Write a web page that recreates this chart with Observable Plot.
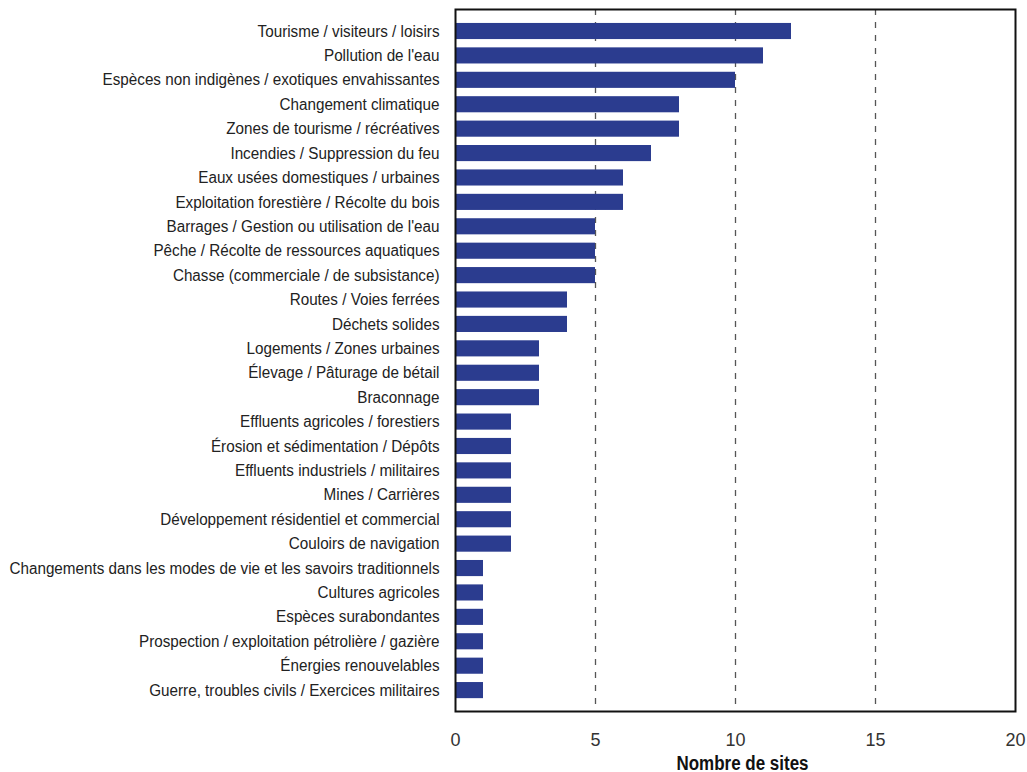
<!DOCTYPE html>
<html>
<head>
<meta charset="utf-8">
<script src="https://cdn.jsdelivr.net/npm/d3@7"></script>
<script src="https://cdn.jsdelivr.net/npm/@observablehq/plot@0.6"></script>
<style>
  html, body { margin: 0; padding: 0; background: #fff; }
  #chart svg { display: block; }
</style>
</head>
<body>
<div id="chart"></div>
<script>
const categories = [
  "Tourisme / visiteurs / loisirs",
  "Pollution de l'eau",
  "Espèces non indigènes / exotiques envahissantes",
  "Changement climatique",
  "Zones de tourisme / récréatives",
  "Incendies / Suppression du feu",
  "Eaux usées domestiques / urbaines",
  "Exploitation forestière / Récolte du bois",
  "Barrages / Gestion ou utilisation de l'eau",
  "Pêche / Récolte de ressources aquatiques",
  "Chasse (commerciale / de subsistance)",
  "Routes / Voies ferrées",
  "Déchets solides",
  "Logements / Zones urbaines",
  "Élevage / Pâturage de bétail",
  "Braconnage",
  "Effluents agricoles / forestiers",
  "Érosion et sédimentation / Dépôts",
  "Effluents industriels / militaires",
  "Mines / Carrières",
  "Développement résidentiel et commercial",
  "Couloirs de navigation",
  "Changements dans les modes de vie et les savoirs traditionnels",
  "Cultures agricoles",
  "Espèces surabondantes",
  "Prospection / exploitation pétrolière / gazière",
  "Énergies renouvelables",
  "Guerre, troubles civils / Exercices militaires"
];
const values = [12, 11, 10, 8, 8, 7, 6, 6, 5, 5, 5, 4, 4, 3, 3, 3, 2, 2, 2, 2, 2, 2, 1, 1, 1, 1, 1, 1];
const xTicks = [0, 5, 10, 15, 20];
const gridTicks = [5, 10, 15];
const xLabel = "Nombre de sites";

const data = categories.map((c, i) => ({category: c, value: values[i]}));

const chart = Plot.plot({
  width: 1027,
  height: 772,
  marginLeft: 455,
  marginRight: 12,
  marginTop: 9,
  marginBottom: 61,
  style: {fontFamily: "'Liberation Sans', Arial, sans-serif", background: "#fff"},
  x: {domain: [0, 20], ticks: xTicks},
  y: {domain: categories, range: [18.8, 702.3], padding: 0.34, paddingOuter: 0.17, round: false, axis: null},
  marks: [
    Plot.ruleX(gridTicks, {stroke: "#555", strokeWidth: 1.3, strokeDasharray: "6,7"}),
    Plot.barX(data, {x: "value", y: "category", fill: "#2b3c8f"}),
    Plot.axisY({tickSize: 0, tickPadding: 16, fontSize: 16, fill: "#222", label: null}),
    Plot.axisX({ticks: xTicks, tickSize: 0, tickPadding: 22, fontSize: 18, fill: "#333", label: null, tickFormat: d => String(d)}),
    Plot.frame({stroke: "#111", strokeWidth: 2}),
    Plot.text([xLabel], {frameAnchor: "bottom", dx: 7, dy: 58, text: d => d, fontSize: 20, fontWeight: "bold", fill: "#111"})
  ]
});
document.getElementById("chart").appendChild(chart);

// Condense text to mimic the reference's narrow typeface
const yTexts = Array.from(chart.querySelectorAll('g[aria-label="y-axis tick label"] text'));
const maxLen = Math.max(...yTexts.map(t => t.getComputedTextLength()));
const k = 430 / maxLen;
yTexts.forEach(t => {
  const len = t.getComputedTextLength();
  t.setAttribute("textLength", len * k);
  t.setAttribute("lengthAdjust", "spacingAndGlyphs");
});
chart.querySelectorAll('g[aria-label="text"] text').forEach(t => {
  t.setAttribute("textLength", 132);
  t.setAttribute("lengthAdjust", "spacingAndGlyphs");
});
</script>
</body>
</html>
